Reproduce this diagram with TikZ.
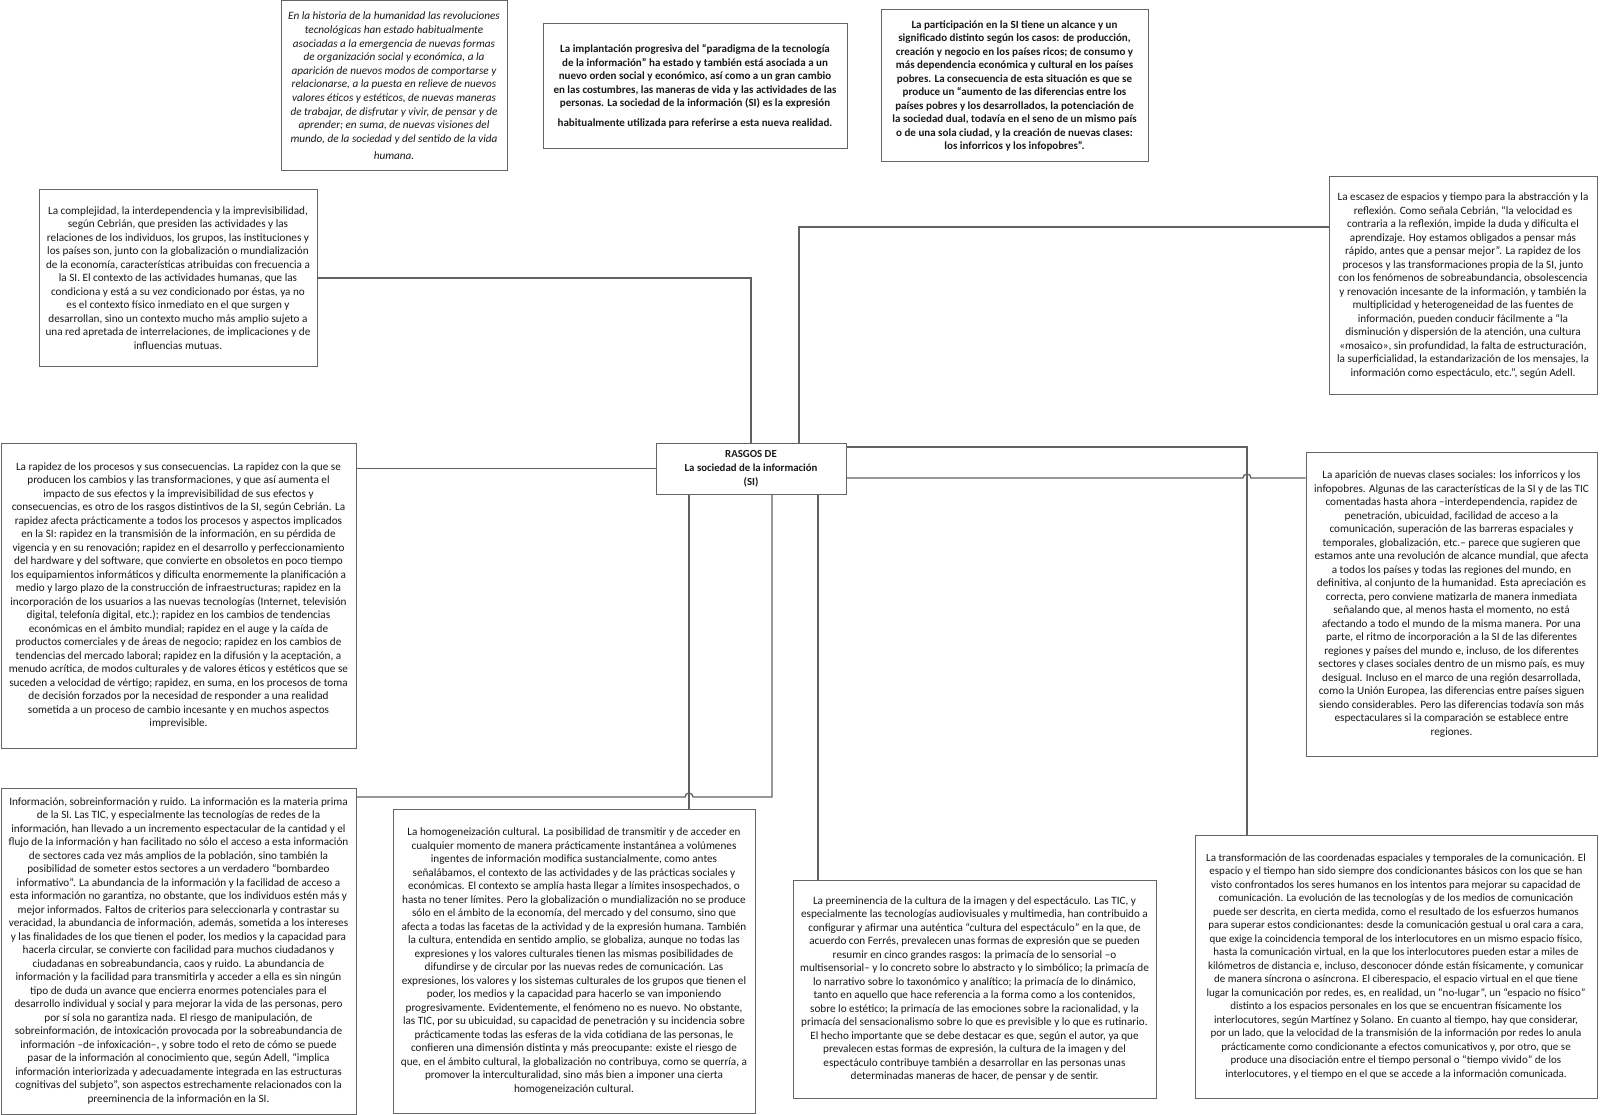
\documentclass[tikz,border=0pt]{standalone}
\usepackage{fontspec}
\setmainfont{Carlito}
\usepackage{tikz}
\usetikzlibrary{positioning, calc}

\begin{document}
\begin{tikzpicture}[
  x=1pt, y=-1pt,
  box/.style={draw=black!60, line width=1pt, fill=white, rectangle,
              inner sep=0pt, align=center, text=black!90,
              font=\fontsize{11.2}{13.5}\selectfont},
  boxsize/.style 2 args={minimum width=#1pt, minimum height=#2pt},
  leadbox/.style={box, font=\fontsize{11}{13.5}\selectfont\bfseries},
  citebox/.style={box, font=\fontsize{11.2}{13.6}\selectfont\itshape},
  hubbox/.style={box, font=\fontsize{10.8}{13.8}\selectfont\bfseries},
  link/.style={draw=black!62, line width=1.3pt},
]
\useasboundingbox (0,0) rectangle (1600,1115);

%% Top row
\node[citebox, boxsize={226}{170}] (hist) at (394,86)
  {En la historia de la humanidad las revoluciones\\
   tecnológicas han estado habitualmente\\
   asociadas a la emergencia de nuevas formas\\
   de organización social y económica, a la\\
   aparición de nuevos modos de comportarse y\\
   relacionarse, a la puesta en relieve de nuevos\\
   valores éticos y estéticos, de nuevas maneras\\
   de trabajar, de disfrutar y vivir, de pensar y de\\
   aprender; en suma, de nuevas visiones del\\
   mundo, de la sociedad y del sentido de la vida\\[4pt]
   humana.};

\node[leadbox, boxsize={304}{125}] (implant) at (695,86.5)
  {La implantación progresiva del “paradigma de la tecnología\\
   de la información” ha estado y también está asociada a un\\
   nuevo orden social y económico, así como a un gran cambio\\
   en las costumbres, las maneras de vida y las actividades de las\\
   personas. La sociedad de la información (SI) es la expresión\\[6pt]
   habitualmente utilizada para referirse a esta nueva realidad.};

\node[leadbox, boxsize={267}{152}] (particip) at (1014.5,86)
  {La participación en la SI tiene un alcance y un\\
   significado distinto según los casos: de producción,\\
   creación y negocio en los países ricos; de consumo y\\
   más dependencia económica y cultural en los países\\
   pobres. La consecuencia de esta situación es que se\\
   produce un “aumento de las diferencias entre los\\
   países pobres y los desarrollados, la potenciación de\\
   la sociedad dual, todavía en el seno de un mismo país\\
   o de una sola ciudad, y la creación de nuevas clases:\\
   los inforricos y los infopobres”.};

%% Second row
\node[box, boxsize={278}{176}] (complej) at (178,278)
  {La complejidad, la interdependencia y la imprevisibilidad,\\
   según Cebrián, que presiden las actividades y las\\
   relaciones de los individuos, los grupos, las instituciones y\\
   los países son, junto con la globalización o mundialización\\
   de la economía, características atribuidas con frecuencia a\\
   la SI. El contexto de las actividades humanas, que las\\
   condiciona y está a su vez condicionado por éstas, ya no\\
   es el contexto físico inmediato en el que surgen y\\
   desarrollan, sino un contexto mucho más amplio sujeto a\\
   una red apretada de interrelaciones, de implicaciones y de\\
   influencias mutuas.};

\node[box, boxsize={268}{217}] (escasez) at (1463,285.5)
  {La escasez de espacios y tiempo para la abstracción y la\\
   reflexión. Como señala Cebrián, “la velocidad es\\
   contraria a la reflexión, impide la duda y dificulta el\\
   aprendizaje. Hoy estamos obligados a pensar más\\
   rápido, antes que a pensar mejor”. La rapidez de los\\
   procesos y las transformaciones propia de la SI, junto\\
   con los fenómenos de sobreabundancia, obsolescencia\\
   y renovación incesante de la información, y también la\\
   multiplicidad y heterogeneidad de las fuentes de\\
   información, pueden conducir fácilmente a “la\\
   disminución y dispersión de la atención, una cultura\\
   «mosaico», sin profundidad, la falta de estructuración,\\
   la superficialidad, la estandarización de los mensajes, la\\
   información como espectáculo, etc.”, según Adell.};

%% Centre
\node[hubbox, boxsize={190}{51}] (rasgos) at (751,468.5)
  {RASGOS DE\\La sociedad de la información\\(SI)};

%% Left column
\node[box, boxsize={355}{305}] (rapidez) at (178.5,595.5)
  {La rapidez de los procesos y sus consecuencias. La rapidez con la que se\\
   producen los cambios y las transformaciones, y que así aumenta el\\
   impacto de sus efectos y la imprevisibilidad de sus efectos y\\
   consecuencias, es otro de los rasgos distintivos de la SI, según Cebrián. La\\
   rapidez afecta prácticamente a todos los procesos y aspectos implicados\\
   en la SI: rapidez en la transmisión de la información, en su pérdida de\\
   vigencia y en su renovación; rapidez en el desarrollo y perfeccionamiento\\
   del hardware y del software, que convierte en obsoletos en poco tiempo\\
   los equipamientos informáticos y dificulta enormemente la planificación a\\
   medio y largo plazo de la construcción de infraestructuras; rapidez en la\\
   incorporación de los usuarios a las nuevas tecnologías (Internet, televisión\\
   digital, telefonía digital, etc.); rapidez en los cambios de tendencias\\
   económicas en el ámbito mundial; rapidez en el auge y la caída de\\
   productos comerciales y de áreas de negocio; rapidez en los cambios de\\
   tendencias del mercado laboral; rapidez en la difusión y la aceptación, a\\
   menudo acrítica, de modos culturales y de valores éticos y estéticos que se\\
   suceden a velocidad de vértigo; rapidez, en suma, en los procesos de toma\\
   de decisión forzados por la necesidad de responder a una realidad\\
   sometida a un proceso de cambio incesante y en muchos aspectos\\
   imprevisible.};

\node[box, boxsize={355}{326}, below=39pt of rapidez] (inform)
  {Información, sobreinformación y ruido. La información es la materia prima\\
   de la SI. Las TIC, y especialmente las tecnologías de redes de la\\
   información, han llevado a un incremento espectacular de la cantidad y el\\
   flujo de la información y han facilitado no sólo el acceso a esta información\\
   de sectores cada vez más amplios de la población, sino también la\\
   posibilidad de someter estos sectores a un verdadero “bombardeo\\
   informativo”. La abundancia de la información y la facilidad de acceso a\\
   esta información no garantiza, no obstante, que los individuos estén más y\\
   mejor informados. Faltos de criterios para seleccionarla y contrastar su\\
   veracidad, la abundancia de información, además, sometida a los intereses\\
   y las finalidades de los que tienen el poder, los medios y la capacidad para\\
   hacerla circular, se convierte con facilidad para muchos ciudadanos y\\
   ciudadanas en sobreabundancia, caos y ruido. La abundancia de\\
   información y la facilidad para transmitirla y acceder a ella es sin ningún\\
   tipo de duda un avance que encierra enormes potenciales para el\\
   desarrollo individual y social y para mejorar la vida de las personas, pero\\
   por sí sola no garantiza nada. El riesgo de manipulación, de\\
   sobreinformación, de intoxicación provocada por la sobreabundancia de\\
   información –de infoxicación–, y sobre todo el reto de cómo se puede\\
   pasar de la información al conocimiento que, según Adell, “implica\\
   información interiorizada y adecuadamente integrada en las estructuras\\
   cognitivas del subjeto”, son aspectos estrechamente relacionados con la\\
   preeminencia de la información en la SI.};

%% Right column
\node[box, boxsize={291}{304}] (aparic) at (1451.5,604)
  {La aparición de nuevas clases sociales: los inforricos y los\\
   infopobres. Algunas de las características de la SI y de las TIC\\
   comentadas hasta ahora –interdependencia, rapidez de\\
   penetración, ubicuidad, facilidad de acceso a la\\
   comunicación, superación de las barreras espaciales y\\
   temporales, globalización, etc.– parece que sugieren que\\
   estamos ante una revolución de alcance mundial, que afecta\\
   a todos los países y todas las regiones del mundo, en\\
   definitiva, al conjunto de la humanidad. Esta apreciación es\\
   correcta, pero conviene matizarla de manera inmediata\\
   señalando que, al menos hasta el momento, no está\\
   afectando a todo el mundo de la misma manera. Por una\\
   parte, el ritmo de incorporación a la SI de las diferentes\\
   regiones y países del mundo e, incluso, de los diferentes\\
   sectores y clases sociales dentro de un mismo país, es muy\\
   desigual. Incluso en el marco de una región desarrollada,\\
   como la Unión Europea, las diferencias entre países siguen\\
   siendo considerables. Pero las diferencias todavía son más\\
   espectaculares si la comparación se establece entre\\
   regiones.};

%% Bottom row
\node[box, boxsize={362}{304}] (homog) at (574,961)
  {La homogeneización cultural. La posibilidad de transmitir y de acceder en\\
   cualquier momento de manera prácticamente instantánea a volúmenes\\
   ingentes de información modifica sustancialmente, como antes\\
   señalábamos, el contexto de las actividades y de las prácticas sociales y\\
   económicas. El contexto se amplía hasta llegar a límites insospechados, o\\
   hasta no tener límites. Pero la globalización o mundialización no se produce\\
   sólo en el ámbito de la economía, del mercado y del consumo, sino que\\
   afecta a todas las facetas de la actividad y de la expresión humana. También\\
   la cultura, entendida en sentido amplio, se globaliza, aunque no todas las\\
   expresiones y los valores culturales tienen las mismas posibilidades de\\
   difundirse y de circular por las nuevas redes de comunicación. Las\\
   expresiones, los valores y los sistemas culturales de los grupos que tienen el\\
   poder, los medios y la capacidad para hacerlo se van imponiendo\\
   progresivamente. Evidentemente, el fenómeno no es nuevo. No obstante,\\
   las TIC, por su ubicuidad, su capacidad de penetración y su incidencia sobre\\
   prácticamente todas las esferas de la vida cotidiana de las personas, le\\
   confieren una dimensión distinta y más preocupante: existe el riesgo de\\
   que, en el ámbito cultural, la globalización no contribuya, como se querría, a\\
   promover la interculturalidad, sino más bien a imponer una cierta\\
   homogeneización cultural.};

\node[box, boxsize={363}{218}] (preem) at (974.5,989)
  {La preeminencia de la cultura de la imagen y del espectáculo. Las TIC, y\\
   especialmente las tecnologías audiovisuales y multimedia, han contribuido a\\
   configurar y afirmar una auténtica “cultura del espectáculo” en la que, de\\
   acuerdo con Ferrés, prevalecen unas formas de expresión que se pueden\\
   resumir en cinco grandes rasgos: la primacía de lo sensorial –o\\
   multisensorial– y lo concreto sobre lo abstracto y lo simbólico; la primacía de\\
   lo narrativo sobre lo taxonómico y analítico; la primacía de lo dinámico,\\
   tanto en aquello que hace referencia a la forma como a los contenidos,\\
   sobre lo estético; la primacía de las emociones sobre la racionalidad, y la\\
   primacía del sensacionalismo sobre lo que es previsible y lo que es rutinario.\\
   El hecho importante que se debe destacar es que, según el autor, ya que\\
   prevalecen estas formas de expresión, la cultura de la imagen y del\\
   espectáculo contribuye también a desarrollar en las personas unas\\
   determinadas maneras de hacer, de pensar y de sentir.};

\node[box, boxsize={402}{263}, font=\fontsize{11}{13.5}\selectfont] (transf) at (1396,966.5)
  {La transformación de las coordenadas espaciales y temporales de la comunicación. El\\
   espacio y el tiempo han sido siempre dos condicionantes básicos con los que se han\\
   visto confrontados los seres humanos en los intentos para mejorar su capacidad de\\
   comunicación. La evolución de las tecnologías y de los medios de comunicación\\
   puede ser descrita, en cierta medida, como el resultado de los esfuerzos humanos\\
   para superar estos condicionantes: desde la comunicación gestual u oral cara a cara,\\
   que exige la coincidencia temporal de los interlocutores en un mismo espacio físico,\\
   hasta la comunicación virtual, en la que los interlocutores pueden estar a miles de\\
   kilómetros de distancia e, incluso, desconocer dónde están físicamente, y comunicar\\
   de manera síncrona o asíncrona. El ciberespacio, el espacio virtual en el que tiene\\
   lugar la comunicación por redes, es, en realidad, un “no-lugar”, un “espacio no físico”\\
   distinto a los espacios personales en los que se encuentran físicamente los\\
   interlocutores, según Martínez y Solano. En cuanto al tiempo, hay que considerar,\\
   por un lado, que la velocidad de la transmisión de la información por redes lo anula\\
   prácticamente como condicionante a efectos comunicativos y, por otro, que se\\
   produce una disociación entre el tiempo personal o “tiempo vivido” de los\\
   interlocutores, y el tiempo en el que se accede a la información comunicada.};

%% Links
\coordinate (hopG) at (1247,478);
\coordinate (hopH) at (689,797);

\draw[link] (rasgos.north) |- (complej.east);
\draw[link] ([xshift=48pt]rasgos.north) |- ([yshift=58.5pt]escasez.west);
\draw[link] ([yshift=21.5pt]rasgos.east) -| ([xshift=-149pt]transf.north);
\draw[link] ([yshift=-9.5pt]rasgos.east) -- ([xshift=-4pt]hopG)
  arc[start angle=180, end angle=0, radius=4pt] -- (hopG -| aparic.west);
\draw[link] (rasgos.west) -- (rasgos.west -| rapidez.east);
\draw[link] (hopH |- rasgos.south) -- (hopH |- homog.north);
\draw[link] ([xshift=21pt]rasgos.south) |- ([xshift=4pt]hopH)
  arc[start angle=0, end angle=180, radius=4pt] -- (hopH -| inform.east);
\draw[link] ([xshift=67pt]rasgos.south) -- ([xshift=67pt]rasgos.south |- preem.north);

\end{tikzpicture}
\end{document}
